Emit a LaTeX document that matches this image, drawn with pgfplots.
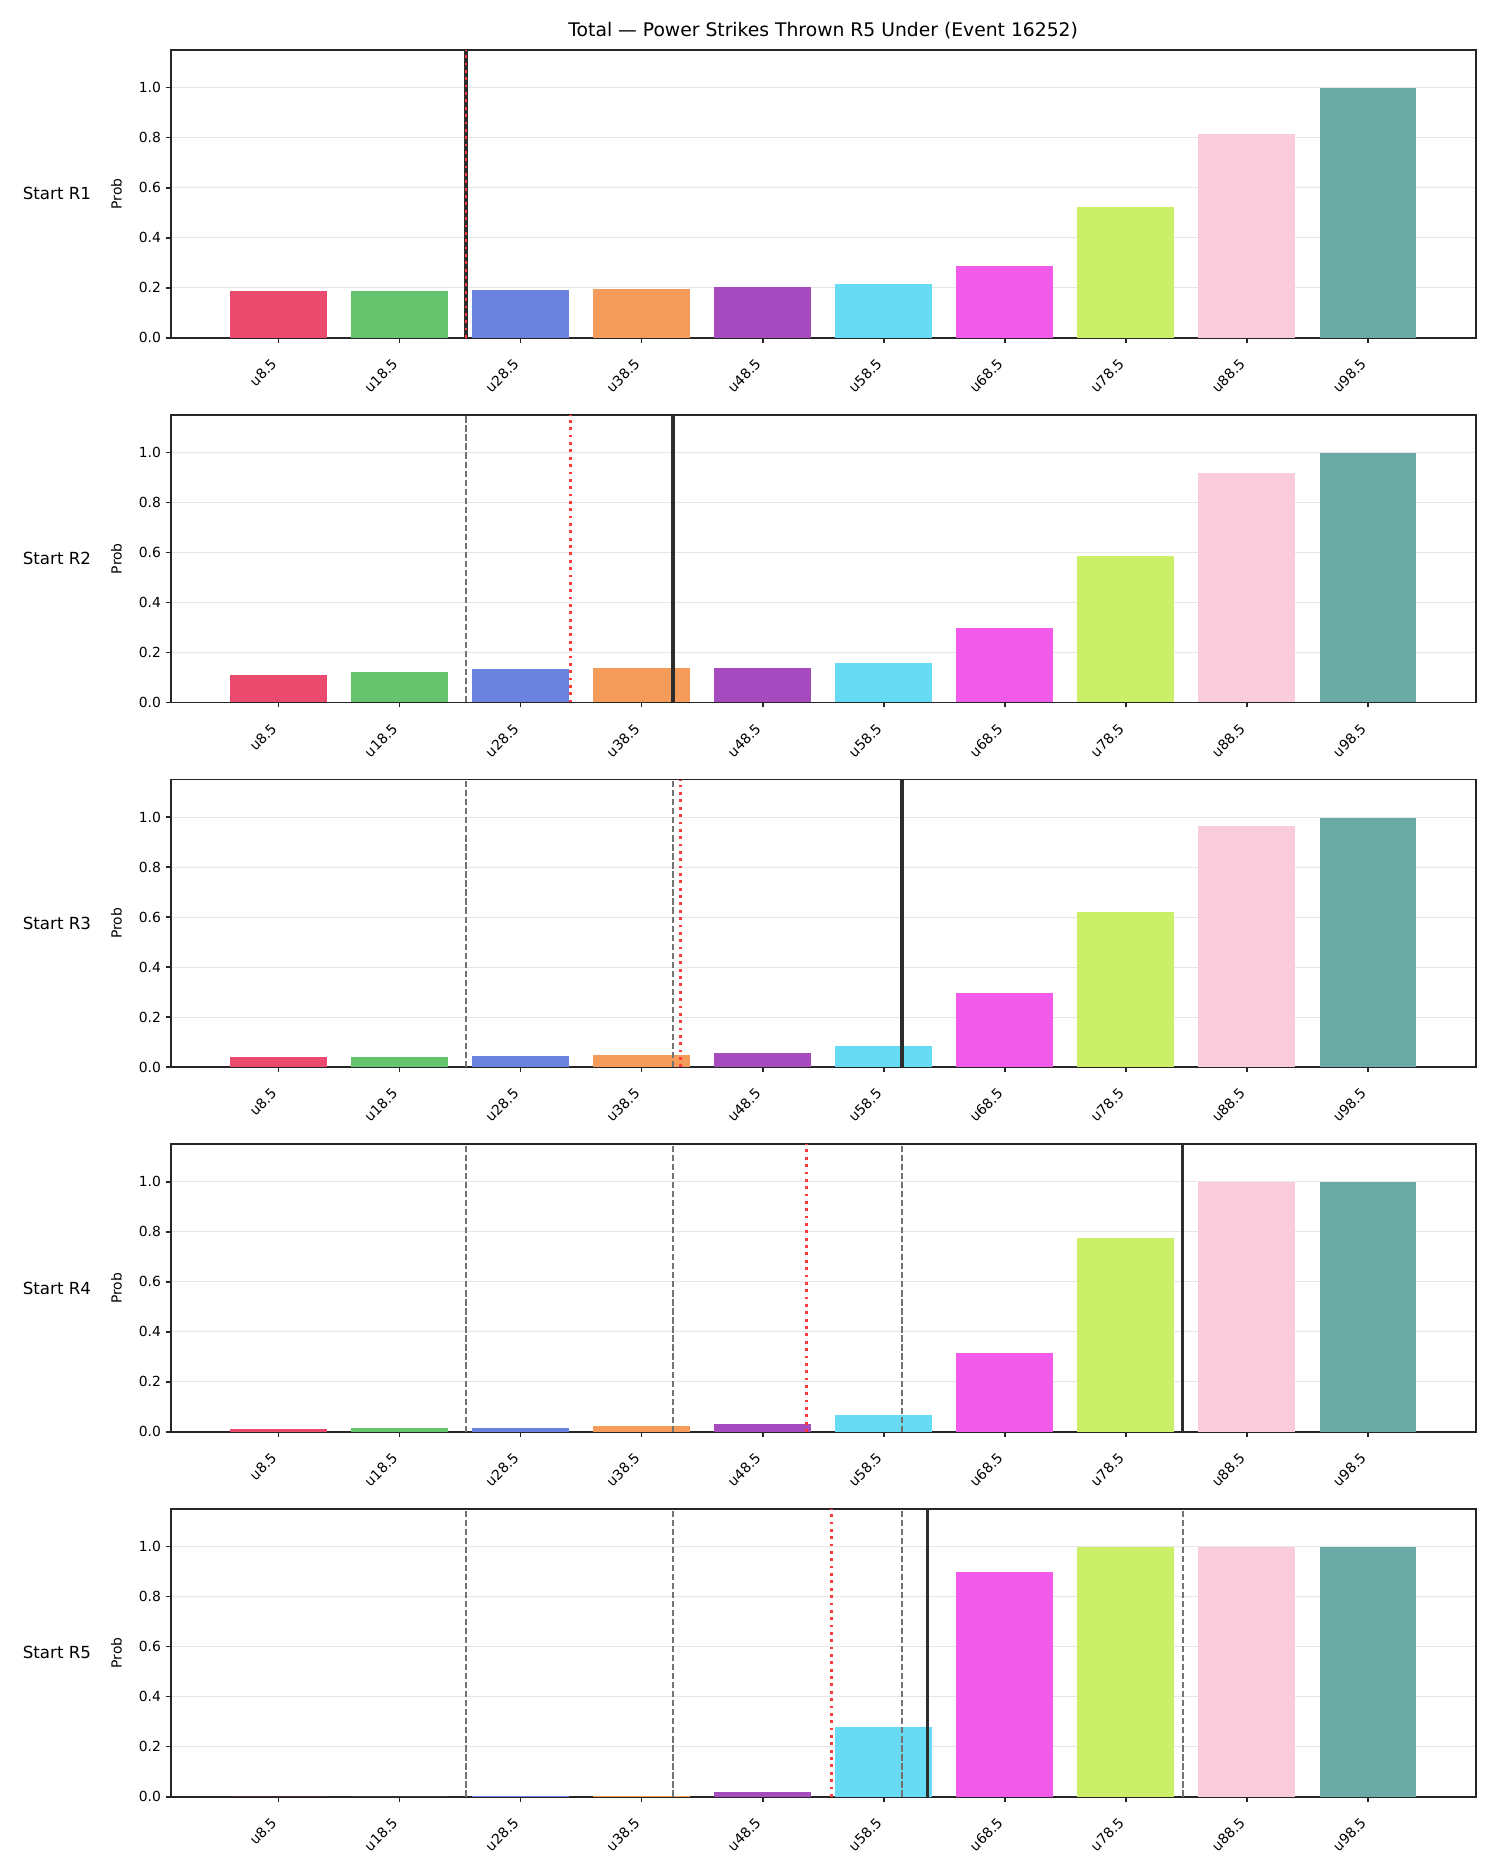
\documentclass[border=0pt]{standalone}
\usepackage{fontspec}
\setmainfont{DejaVu Sans}
\usepackage{pgfplots}
\pgfplotsset{compat=1.18}
\usepackage{pgfplotstable}

\definecolor{bc0}{RGB}{236,73,111}
\definecolor{bc1}{RGB}{102,196,111}
\definecolor{bc2}{RGB}{107,131,223}
\definecolor{bc3}{RGB}{246,156,91}
\definecolor{bc4}{RGB}{166,75,191}
\definecolor{bc5}{RGB}{103,218,244}
\definecolor{bc6}{RGB}{242,90,234}
\definecolor{bc7}{RGB}{203,240,103}
\definecolor{bc8}{RGB}{249,203,219}
\definecolor{bc9}{RGB}{108,171,165}
\definecolor{gridc}{RGB}{230,230,230}
\definecolor{spine}{RGB}{38,38,38}
\definecolor{dashg}{RGB}{115,115,115}
\definecolor{dotred}{RGB}{255,60,60}
\definecolor{curblack}{RGB}{45,45,45}

\pgfplotstableread{
x y
0 0.187
1 0.187
2 0.191
3 0.195
4 0.203
5 0.215
6 0.287
7 0.524
8 0.813
9 0.997
}\dataA
\pgfplotstableread{
x y
0 0.111
1 0.123
2 0.132
3 0.136
4 0.136
5 0.159
6 0.298
7 0.587
8 0.918
9 0.997
}\dataB
\pgfplotstableread{
x y
0 0.040
1 0.040
2 0.045
3 0.050
4 0.055
5 0.085
6 0.298
7 0.620
8 0.966
9 0.997
}\dataC
\pgfplotstableread{
x y
0 0.010
1 0.015
2 0.017
3 0.025
4 0.031
5 0.066
6 0.316
7 0.776
8 0.999
9 0.999
}\dataD
\pgfplotstableread{
x y
0 0.000
1 0.000
2 0.002
3 0.003
4 0.017
5 0.278
6 0.898
7 0.997
8 0.999
9 0.999
}\dataE

\pgfplotsset{
  panel/.style={
    scale only axis, width=939.6pt, height=207.1pt,
    anchor=north west,
    xmin=-0.89, xmax=9.89, ymin=0, ymax=1.15,
    xtick={0,1,2,3,4,5,6,7,8,9},
    xticklabels={u8.5,u18.5,u28.5,u38.5,u48.5,u58.5,u68.5,u78.5,u88.5,u98.5},
    xticklabel style={xshift=-6pt, yshift=-6pt, rotate=45, anchor=north east, font=\fontsize{10}{12}\selectfont},
    ytick={0,0.2,0.4,0.6,0.8,1.0},
    yticklabel style={font=\fontsize{10}{12}\selectfont},
    /pgf/number format/.cd, fixed, fixed zerofill, precision=1, assume math mode=true, /pgfplots/.cd,
    ylabel={Prob},
    ylabel style={font=\fontsize{10}{12}\selectfont, at={(axis description cs:-0.0415,0.5)}, anchor=center},
    ymajorgrids, grid style={draw=gridc, line width=0.8pt},
    axis line style={draw=spine, line width=1.2pt},
    tick style={draw=spine, line width=1.2pt},
    tick align=outside, tick pos=left, major tick length=3.5pt,
  },
  curl/.style={draw=curblack, line width=2.4pt},
  prevl/.style={draw=dashg, line width=1.2pt, dash pattern=on 4.5pt off 2pt},
  redl/.style={draw=dotred, line width=2pt, dash pattern=on 2pt off 3.3pt},
}

\newcommand\drawbars[1]{%
  \pgfplotsinvokeforeach{0,...,9}{%
    \addplot[ybar, bar width=0.8, bar shift=0pt, fill=bc##1, draw=none,
      restrict x to domain=##1:##1] table[x=x,y=y]{#1};
  }%
}

\begin{document}
\begin{tikzpicture}
\path[use as bounding box] (0,0) rectangle (1080pt,1350pt);

\node at (592.7pt,1327.7pt) {\fontsize{13.5}{16}\selectfont Total — Power Strikes Thrown R5 Under (Event 16252)};

% Panel 1
\begin{axis}[panel, at={(122.9pt,1313.9pt)}]
\drawbars{\dataA}
\addplot[curl] coordinates {(1.55,0) (1.55,1.15)};
\addplot[redl] coordinates {(1.55,0) (1.55,1.15)};
\end{axis}
\node at (41pt,1210.4pt) {\fontsize{12}{14}\selectfont Start R1};

% Panel 2
\begin{axis}[panel, at={(122.9pt,1051.3pt)}]
\drawbars{\dataB}
\addplot[prevl] coordinates {(1.55,0) (1.55,1.15)};
\addplot[curl] coordinates {(3.26,0) (3.26,1.15)};
\addplot[redl] coordinates {(2.41,0) (2.41,1.15)};
\end{axis}
\node at (41pt,947.8pt) {\fontsize{12}{14}\selectfont Start R2};

% Panel 3
\begin{axis}[panel, at={(122.9pt,788.7pt)}]
\drawbars{\dataC}
\addplot[prevl] coordinates {(1.55,0) (1.55,1.15)};
\addplot[prevl] coordinates {(3.26,0) (3.26,1.15)};
\addplot[curl] coordinates {(5.15,0) (5.15,1.15)};
\addplot[redl] coordinates {(3.32,0) (3.32,1.15)};
\end{axis}
\node at (41pt,685.2pt) {\fontsize{12}{14}\selectfont Start R3};

% Panel 4
\begin{axis}[panel, at={(122.9pt,526.1pt)}]
\drawbars{\dataD}
\addplot[prevl] coordinates {(1.55,0) (1.55,1.15)};
\addplot[prevl] coordinates {(3.26,0) (3.26,1.15)};
\addplot[prevl] coordinates {(5.15,0) (5.15,1.15)};
\addplot[curl] coordinates {(7.47,0) (7.47,1.15)};
\addplot[redl] coordinates {(4.36,0) (4.36,1.15)};
\end{axis}
\node at (41pt,422.6pt) {\fontsize{12}{14}\selectfont Start R4};

% Panel 5
\begin{axis}[panel, at={(122.9pt,263.5pt)}]
\drawbars{\dataE}
\addplot[prevl] coordinates {(1.55,0) (1.55,1.15)};
\addplot[prevl] coordinates {(3.26,0) (3.26,1.15)};
\addplot[prevl] coordinates {(5.15,0) (5.15,1.15)};
\addplot[prevl] coordinates {(7.47,0) (7.47,1.15)};
\addplot[curl] coordinates {(5.36,0) (5.36,1.15)};
\addplot[redl] coordinates {(4.57,0) (4.57,1.15)};
\end{axis}
\node at (41pt,160pt) {\fontsize{12}{14}\selectfont Start R5};
\end{tikzpicture}
\end{document}
